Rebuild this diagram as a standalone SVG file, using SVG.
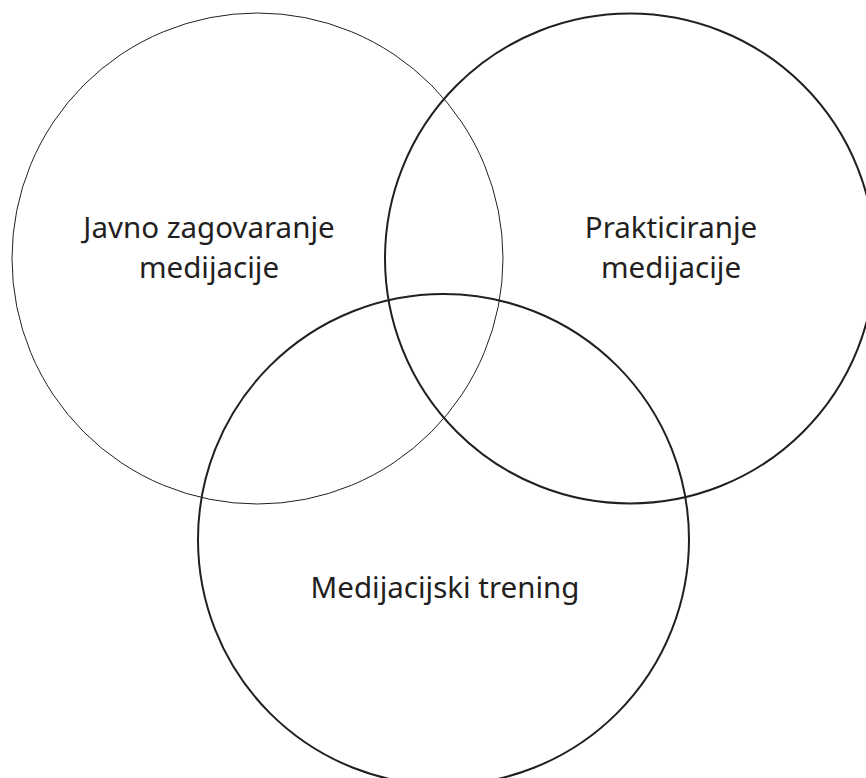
<svg xmlns="http://www.w3.org/2000/svg" width="866" height="778" viewBox="0 0 866 778">
<style>
.c{fill:none;stroke:#231f20}
.t{font-family:"Noto Sans","Open Sans",sans-serif;font-size:29.5px;fill:#231f20;text-anchor:middle}
</style>
<rect width="866" height="778" fill="#fff"/>
<g id="n1"><circle class="c" cx="257.5" cy="258.5" r="245.5" stroke-width="1"/>
<text class="t" x="209" y="238">Javno zagovaranje</text><text class="t" x="209" y="278">medijacije</text></g>
<g id="n2"><circle class="c" cx="630" cy="258.5" r="245" stroke-width="2"/>
<text class="t" x="671" y="238">Prakticiranje</text><text class="t" x="671" y="278">medijacije</text></g>
<g id="n3"><circle class="c" cx="443.5" cy="539.5" r="245.5" stroke-width="2"/>
<text class="t" x="445" y="598">Medijacijski trening</text></g>
<g id="connectors"/>
</svg>
